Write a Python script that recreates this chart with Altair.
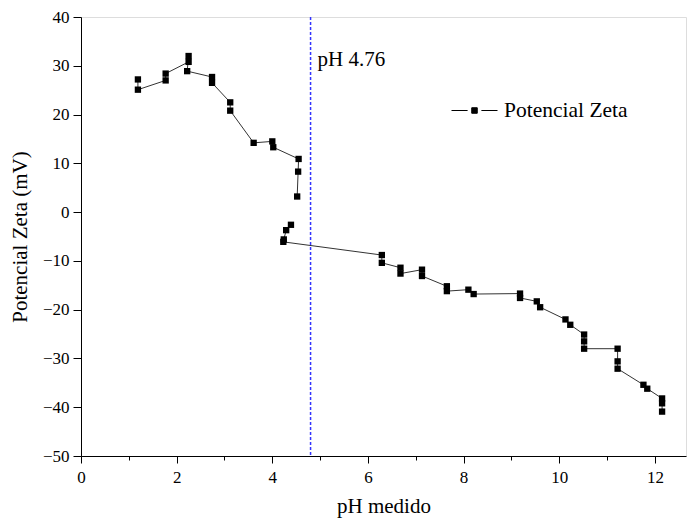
import altair as alt
import pandas as pd

# Measured data (pH, zeta potential in mV)
ph = [1.19, 1.19, 1.77, 1.77, 2.25, 2.25, 2.22, 2.74, 2.74, 3.12, 3.12, 3.61, 4.00, 4.02,
      4.55, 4.54, 4.52,
      4.39, 4.29, 4.24, 4.23, 6.29, 6.29, 6.68, 6.68, 7.13, 7.13, 7.65, 7.65, 8.10, 8.21,
      9.18, 9.18, 9.53, 9.60, 10.13, 10.23, 10.52, 10.52, 10.52, 11.22, 11.22, 11.22,
      11.76, 11.84, 12.15, 12.15, 12.15]
zeta = [27.2, 25.1, 27.0, 28.4, 30.8, 32.0, 28.9, 27.7, 26.5, 22.5, 20.8, 14.2, 14.5, 13.3,
        10.9, 8.3, 3.2,
        -2.6, -3.7, -5.6, -6.1, -8.8, -10.4, -11.4, -12.6, -11.8, -13.1, -15.2, -16.2, -15.9, -16.8,
        -16.7, -17.6, -18.3, -19.5, -22.0, -23.1, -25.1, -26.5, -28.0, -28.0, -30.6, -32.1,
        -35.4, -36.2, -38.2, -39.2, -40.9]
segment = ["a"] * 17 + ["b"] * 31
series_name = "Potencial Zeta"

ref_ph = [4.8]
ref_label = ["pH 4.76"]
ref_label_y = [31.2]

# major + minor tick positions
x_ticks = [0, 1, 2, 3, 4, 5, 6, 7, 8, 9, 10, 11, 12]
y_ticks = [40, 35, 30, 25, 20, 15, 10, 5, 0, -5, -10, -15, -20, -25, -30, -35, -40, -45, -50]

df = pd.DataFrame({"ph": ph, "zeta": zeta, "seg": segment, "idx": list(range(len(ph))),
                   "serie": [series_name] * len(ph)})
ref_df = pd.DataFrame({"ph": ref_ph, "label": ref_label, "y": ref_label_y})

FONT = "Liberation Serif"

x_scale = alt.Scale(domain=[0, 12.65], nice=False, zero=False)
y_scale = alt.Scale(domain=[-50, 40], nice=False, zero=False)

x_axis = alt.Axis(title="pH medido", values=x_ticks, grid=False,
                  tickSize={"condition": {"test": "datum.value % 2 === 0", "value": 7}, "value": 4},
                  labelExpr="datum.value % 2 === 0 ? datum.label : ''",
                  tickColor="black",
                  domainColor="black", labelFont=FONT, labelFontSize=17, labelColor="black",
                  labelPadding=6, titleFont=FONT, titleFontSize=21, titleFontWeight="normal",
                  titleColor="black", titlePadding=10, labelFlush=False)
y_axis = alt.Axis(title="Potencial Zeta (mV)", values=y_ticks, grid=False,
                  tickSize={"condition": {"test": "datum.value % 10 === 0", "value": 8}, "value": 4},
                  labelExpr="datum.value % 10 === 0 ? datum.label : ''",
                  tickColor="black", domainColor="black", labelFont=FONT, labelFontSize=17,
                  labelColor="black", labelPadding=4, titleFont=FONT, titleFontSize=21,
                  titleFontWeight="normal", titleColor="black", titlePadding=12, labelFlush=False)

base = alt.Chart(df)

line = base.mark_line(color="#333333", strokeWidth=1).encode(
    x=alt.X("ph:Q", scale=x_scale, axis=x_axis),
    y=alt.Y("zeta:Q", scale=y_scale, axis=y_axis),
    detail="seg:N",
    order="idx:Q",
)

legend_symbol = "M-1,0L-0.3,0M-0.12,-0.12L0.12,-0.12L0.12,0.12L-0.12,0.12ZM0.3,0L1,0"

points = base.mark_point(shape="square", filled=True, size=40, opacity=1).encode(
    x=alt.X("ph:Q", scale=x_scale),
    y=alt.Y("zeta:Q", scale=y_scale),
    color=alt.Color("serie:N", scale=alt.Scale(range=["black"]),
                    legend=alt.Legend(title=None, orient="none", legendX=370, legendY=70,
                                      symbolType=legend_symbol, symbolSize=2116,
                                      symbolStrokeColor="black", symbolStrokeWidth=1,
                                      symbolFillColor="black",
                                      labelFont=FONT, labelFontSize=21.5, labelColor="black",
                                      labelOffset=6)),
)

rule = alt.Chart(ref_df).mark_rule(color="#3333ff", strokeDash=[3, 2], strokeWidth=1.5).encode(
    x=alt.X("ph:Q", scale=x_scale)
)

label = alt.Chart(ref_df).mark_text(font=FONT, fontSize=21, color="black", align="left",
                                    baseline="middle", dx=7).encode(
    x=alt.X("ph:Q", scale=x_scale),
    y=alt.Y("y:Q", scale=y_scale),
    text="label:N",
)

chart = alt.layer(rule, line, points, label).properties(
    width=605,
    height=439,
    autosize=alt.AutoSizeParams(type="none"),
    padding={"left": 73, "top": 9, "right": 2, "bottom": 62},
).configure_view(stroke=None).configure(background="white")

chart.save("out.html", embed_options={"renderer": "svg", "actions": False})
